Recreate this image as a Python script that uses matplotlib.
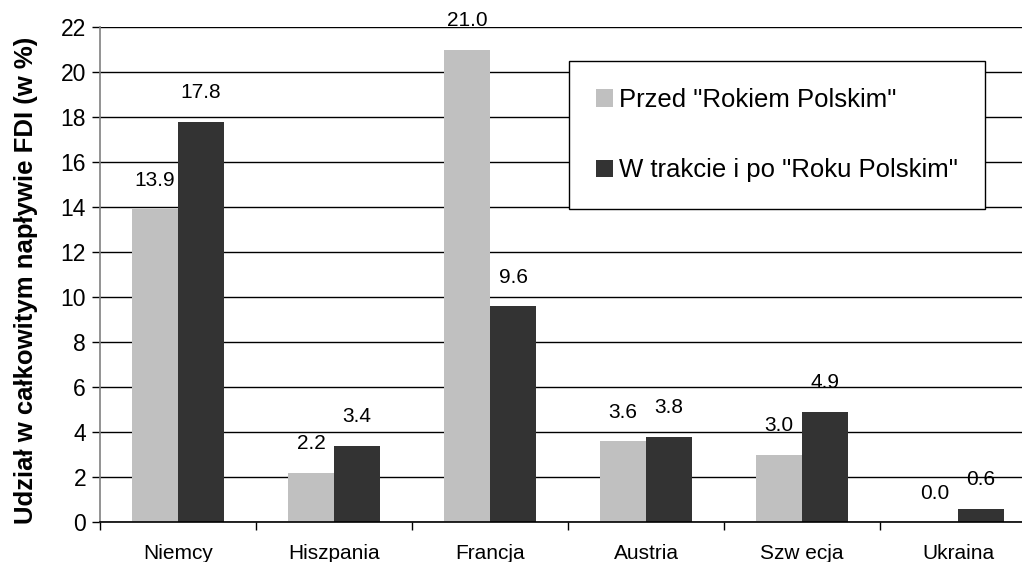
import matplotlib
matplotlib.use("Agg")
import matplotlib.pyplot as plt
import numpy as np

plt.rcParams['font.family'] = ['Liberation Sans', 'DejaVu Sans']

countries = ["Niemcy", "Hiszpania", "Francja", "Austria", "Szw ecja", "Ukraina"]
before = [13.9, 2.2, 21.0, 3.6, 3.0, 0.0]
after = [17.8, 3.4, 9.6, 3.8, 4.9, 0.6]
series_names = ['Przed "Rokiem Polskim"', 'W trakcie i po "Roku Polskim"']
y_ticks = list(range(0, 23, 2))

W, H = 1022, 562
fig = plt.figure(figsize=(W / 100, H / 100), dpi=100)
# plot area: left edge at 100 px, runs past the right border of the canvas
ax = fig.add_axes([100 / W, 40 / H, 936 / W, 495 / H])

x = np.arange(len(countries))
bw = 0.295
light, dark = "#c0c0c0", "#333333"

ax.set_axisbelow(True)
ax.yaxis.grid(True, color="black", linewidth=1.0)
b1 = ax.bar(x - bw / 2, before, width=bw, color=light, label=series_names[0], zorder=2)
b2 = ax.bar(x + bw / 2, after, width=bw, color=dark, label=series_names[1], zorder=2)

for bars, vals in ((b1, before), (b2, after)):
    for rect, v in zip(bars, vals):
        ax.annotate(f"{v:.1f}", (rect.get_x() + rect.get_width() / 2, v),
                    xytext=(0, 14), textcoords="offset points",
                    ha="center", va="bottom", fontsize=15, color="black")

ax.set_xlim(-0.5, len(countries) - 0.5)
ax.set_ylim(0, 22)
ax.set_yticks(y_ticks)
ax.tick_params(axis="y", labelsize=16.5, length=6, width=1, pad=4, direction="out")

ax.set_xticks(x)
ax.set_xticklabels(countries, fontsize=15)
ax.set_xticks(np.arange(len(countries) + 1) - 0.5, minor=True)
ax.tick_params(axis="x", which="major", length=0, pad=16)
ax.tick_params(axis="x", which="minor", length=6, width=1, color="black")

for s in ("top", "right"):
    ax.spines[s].set_visible(False)
ax.spines["left"].set_color("#808080")
ax.spines["left"].set_linewidth(1.2)
ax.spines["bottom"].set_color("black")
ax.spines["bottom"].set_linewidth(1.2)

ax.set_ylabel("Udział w całkowitym napływie FDI (w %)", fontsize=18.5, fontweight="bold")
ax.yaxis.set_label_coords(-0.066, 0.489)

leg = ax.legend(loc="upper left", bbox_to_anchor=(569 / W, 1 - 61 / H),
                bbox_transform=fig.transFigure, fontsize=18.5, frameon=True,
                fancybox=False, edgecolor="black", framealpha=1,
                handlelength=0.66, handleheight=0.66, handletextpad=0.25,
                labelspacing=1.8, borderpad=1.05, borderaxespad=0)
leg.get_frame().set_linewidth(1.0)

fig.savefig("out.png", dpi=100)
